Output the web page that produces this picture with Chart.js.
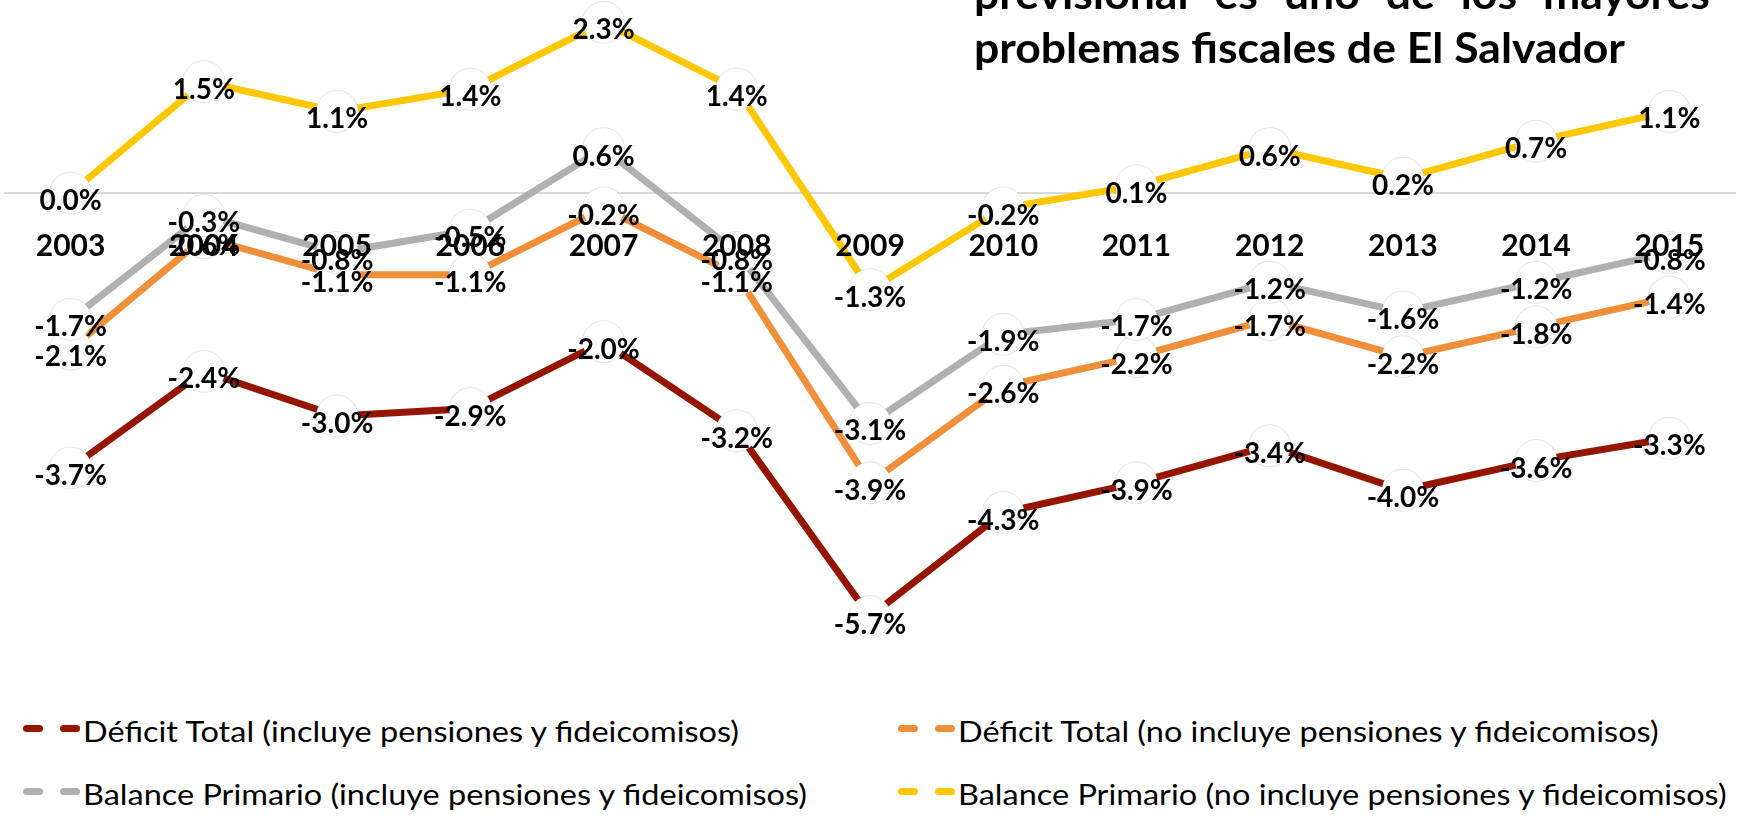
<!DOCTYPE html>
<html>
<head>
<meta charset="utf-8">
<script src="https://cdn.jsdelivr.net/npm/chart.js@4/dist/chart.umd.min.js"></script>
<style>
  html, body { margin: 0; padding: 0; background: #fff; }
  body { width: 1742px; height: 819px; position: relative; overflow: hidden; font-family: Lato, "Open Sans", sans-serif; color: #000; }
  #wrap { position: absolute; left: 0; top: 0; width: 1742px; height: 676px; }
  #title { position: absolute; left: 974px; top: -34px; transform-origin: 0 0; font-weight: 700; font-size: 42px; line-height: 54px; white-space: nowrap; }
  #title .l1 { display: flex; justify-content: space-between; }
  .item { position: absolute; height: 28px; }
  .item .sym { position: absolute; top: 8px; width: 57px; height: 7px; }
  .item .sym i { position: absolute; top: 0; width: 20px; height: 7px; border-radius: 3.5px; }
  .item .txt { position: absolute; left: 60px; top: 0; font-size: 28px; line-height: 28px; white-space: nowrap; transform-origin: 0 0; }
</style>
</head>
<body>
<div id="wrap"><canvas id="c"></canvas></div>
<div id="title">
  <div class="l1"><span>previsional</span><span>es</span><span>uno</span><span>de</span><span>los</span><span>mayores</span></div>
  <div class="l2"><span id="l2">problemas fiscales de El Salvador</span></div>
</div>
<div id="legend"></div>
<script>
// values (% del PIB)
const years = ["2003", "2004", "2005", "2006", "2007", "2008", "2009", "2010", "2011", "2012", "2013", "2014", "2015"];
const deficitTotal = [-3.7, -2.4, -3.0, -2.9, -2.0, -3.2, -5.7, -4.3, -3.9, -3.4, -4.0, -3.6, -3.3];
const deficitSinPensiones = [-2.1, -0.6, -1.1, -1.1, -0.2, -1.1, -3.9, -2.6, -2.2, -1.7, -2.2, -1.8, -1.4];
const primarioTotal = [-1.7, -0.3, -0.8, -0.5, 0.6, -0.8, -3.1, -1.9, -1.7, -1.2, -1.6, -1.2, -0.8];
const primarioSinPensiones = [0.0, 1.5, 1.1, 1.4, 2.3, 1.4, -1.3, -0.2, 0.1, 0.6, 0.2, 0.7, 1.1];

const seriesNames = [
  "Déficit Total (incluye pensiones y fideicomisos)",
  "Déficit Total (no incluye pensiones y fideicomisos)",
  "Balance Primario (incluye pensiones y fideicomisos)",
  "Balance Primario (no incluye pensiones y fideicomisos)",
];
const seriesColors = ["#961500", "#F08F3A", "#B0B0B0", "#FFC700"];
const seriesData = [deficitTotal, deficitSinPensiones, primarioTotal, primarioSinPensiones];

// Excel-style centred data labels
const centerLabels = {
  id: "centerLabels",
  afterDatasetsDraw(chart) {
    const { ctx } = chart;
    ctx.save();
    ctx.font = "bold 28px Lato";
    ctx.fillStyle = "#000";
    ctx.textAlign = "center";
    ctx.textBaseline = "middle";
    chart.data.datasets.forEach((ds, i) => {
      const meta = chart.getDatasetMeta(i);
      meta.data.forEach((pt, j) => {
        ctx.fillText(ds.data[j].toFixed(1) + "%", pt.x, pt.y + 8);
      });
    });
    ctx.restore();
  },
};

const datasets = seriesData.map((d, i) => ({
  label: seriesNames[i],
  data: d,
  borderColor: seriesColors[i],
  borderWidth: 7,
  pointRadius: 21,
  pointHoverRadius: 21,
  pointBackgroundColor: "#fff",
  pointBorderColor: "rgba(0,0,0,0.10)",
  pointBorderWidth: 1,
  tension: 0,
  clip: false,
  order: 4 - i,
}));

document.fonts.load("bold 28px Lato").then(() => document.fonts.load("28px Lato")).finally(() => {
  new Chart(document.getElementById("c"), {
    type: "line",
    data: { labels: years, datasets },
    options: {
      responsive: true,
      maintainAspectRatio: false,
      animation: false,
      layout: { autoPadding: false, padding: { left: 4, right: 6, top: 0, bottom: 0 } },
      plugins: { legend: { display: false }, tooltip: { enabled: false } },
      scales: {
        x: {
          position: { y: 0 },
          offset: true,
          grid: { display: false, drawTicks: false },
          border: { display: false },
          // z: 1 -> year labels sit on top of the markers
          ticks: { z: 1, color: "#000", font: { family: "Lato", weight: "bold", size: 30 }, padding: 35, maxRotation: 0, autoSkip: false },
        },
        y: {
          display: true,
          min: -6.5,
          max: 2.6,
          ticks: { display: false, stepSize: 0.5 },
          border: { display: false },
          // only the zero line, under the series
          grid: { drawTicks: false, lineWidth: 2, color: (c) => (c.tick && c.tick.value === 0 ? "#d9d9d9" : "transparent") },
        },
      },
    },
    plugins: [centerLabels],
  });

  // legend, two columns
  const legend = document.getElementById("legend");
  const spots = [[23, 717], [898, 717], [23, 780], [898, 780]];
  seriesNames.forEach((name, i) => {
    const it = document.createElement("div");
    it.className = "item";
    it.style.left = spots[i][0] + "px";
    it.style.top = spots[i][1] + "px";
    it.innerHTML = `<span class="sym"><i style="left:0;background:${seriesColors[i]}"></i><i style="left:37px;background:${seriesColors[i]}"></i></span><span class="txt">${name}</span>`;
    legend.append(it);
  });
  const txts = [...document.querySelectorAll(".item .txt")];
  const sx = 656 / txts[0].getBoundingClientRect().width;
  txts.forEach((t) => { t.style.transform = `scaleX(${sx})`; });

  // title, squeezed to the reference width
  const title = document.getElementById("title");
  const tx = 651 / document.getElementById("l2").getBoundingClientRect().width;
  title.style.width = (736 / tx) + "px";
  title.style.transform = `scaleX(${tx})`;
});
</script>
</body>
</html>
